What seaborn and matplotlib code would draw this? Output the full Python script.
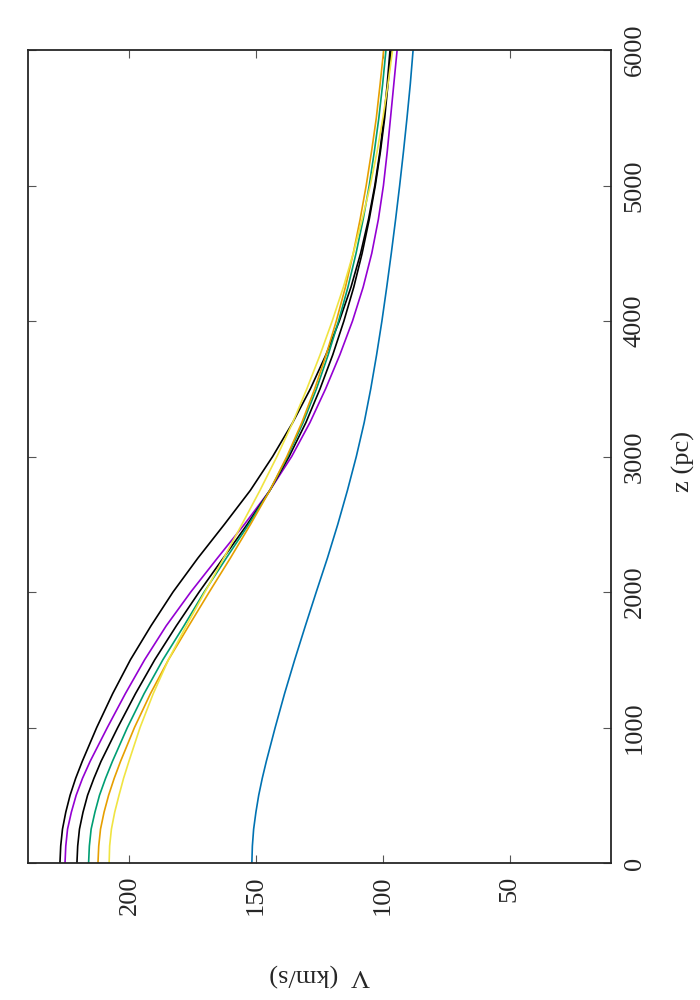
import matplotlib
matplotlib.use("Agg")
import matplotlib.pyplot as plt
import seaborn as sns
import pandas as pd

# height above the plane (pc)
z = [0, 125, 250, 375, 500, 625, 750, 1000, 1250, 1500, 1750, 2000, 2250, 2500, 2750, 3000,
     3250, 3500, 3750, 4000, 4250, 4500, 4750, 5000, 5250, 5500, 5750, 6000]

# rotation velocity (km/s)
v_black1 = [227.4, 227.1, 226.4, 225.1, 223.4, 221.2, 218.6, 212.9, 206.6, 199.6, 191.5, 182.8, 173.0,
            162.5, 152.3, 143.5, 135.6, 128.6, 122.5, 117.2, 112.6, 108.8, 105.7, 103.2, 101.2, 99.6,
            98.3, 97.2]
v_purple = [225.4, 225.1, 224.4, 222.9, 221.0, 218.5, 215.5, 208.7, 201.6, 194.0, 185.5, 175.8, 165.3,
            154.6, 144.6, 136.0, 128.8, 122.6, 117.0, 112.0, 107.8, 104.4, 101.8, 99.8, 98.3, 97.0,
            95.7, 94.4]
v_black2 = [220.7, 220.4, 219.7, 218.3, 216.5, 214.0, 211.2, 204.6, 197.6, 190.0, 181.5, 172.5, 163.0,
            153.5, 144.6, 137.0, 130.4, 124.8, 119.8, 115.4, 111.5, 108.2, 105.4, 103.0, 101.0, 99.3,
            98.0, 96.8]
v_green = [216.1, 215.8, 215.1, 213.6, 211.8, 209.4, 206.7, 200.8, 194.2, 186.8, 178.5, 170.5, 161.8,
           152.9, 144.6, 137.6, 131.5, 126.2, 121.6, 117.5, 113.8, 110.6, 107.8, 105.4, 103.4, 101.6,
           100.1, 98.8]
v_orange = [212.4, 212.1, 211.4, 210.0, 208.2, 206.0, 203.5, 198.0, 191.7, 184.6, 176.6, 168.5, 160.2,
            152.2, 144.6, 137.9, 132.0, 126.9, 122.4, 118.4, 114.8, 111.7, 109.0, 106.6, 104.5, 102.6,
            101.1, 99.7]
v_yellow = [208.0, 207.8, 207.1, 205.8, 204.1, 202.3, 200.2, 195.8, 190.6, 184.6, 177.6, 170.2, 162.8,
            155.6, 148.5, 141.8, 135.6, 130.0, 124.8, 120.0, 115.6, 111.7, 108.2, 105.0, 102.3, 100.0,
            98.0, 96.2]
v_blue = [151.7, 151.5, 151.0, 150.1, 149.0, 147.6, 146.0, 142.5, 138.8, 134.8, 130.6, 126.3, 121.9,
          117.8, 114.0, 110.5, 107.4, 104.8, 102.5, 100.4, 98.5, 96.7, 95.0, 93.4, 91.9, 90.5,
          89.2, 88.1]

series = [
    ("black1", v_black1, "#000000"),
    ("purple", v_purple, "#9400d3"),
    ("black2", v_black2, "#000000"),
    ("green", v_green, "#009e73"),
    ("orange", v_orange, "#e69f00"),
    ("yellow", v_yellow, "#f0e442"),
    ("blue", v_blue, "#0072b2"),
]

df = pd.concat([pd.DataFrame({"z": z, "V": v, "model": name}) for name, v, c in series])
palette = {name: c for name, v, c in series}

sns.set_style("ticks")
plt.rcParams['font.family'] = 'serif'
plt.rcParams['font.serif'] = ['Liberation Serif', 'DejaVu Serif']

fig = plt.figure(figsize=(7, 10), dpi=100)
ax = fig.add_axes([0.04, 0.137, 0.833, 0.813])

sns.lineplot(data=df, x="V", y="z", hue="model", palette=palette, sort=False,
             estimator=None, linewidth=1.2, legend=False, ax=ax)

ax.set_xlim(240, 10)
ax.set_ylim(0, 6000)
ax.set_xticks([200, 150, 100, 50])
ax.set_yticks(range(0, 7000, 1000))
ax.yaxis.tick_right()
ax.tick_params(direction='in', top=True, bottom=True, left=True, right=True,
               length=6, width=0.8, labelsize=19, color='#555555')
ax.tick_params(axis='x', labelrotation=90, pad=9)
ax.tick_params(axis='y', labelrotation=90, pad=9)
for lab in ax.get_yticklabels():
    lab.set_va('center')
for s in ax.spines.values():
    s.set_linewidth(1.3)

ax.set_xlabel("")
ax.set_ylabel("")
fig.text(320 / 700, 0.025, "V  (km/s)", rotation=180, ha='center', va='center', fontsize=19)
fig.text(683 / 700, 1 - 462 / 1000, "z (pc)", rotation=90, ha='center', va='center', fontsize=19)

fig.savefig("out.png", dpi=100)
